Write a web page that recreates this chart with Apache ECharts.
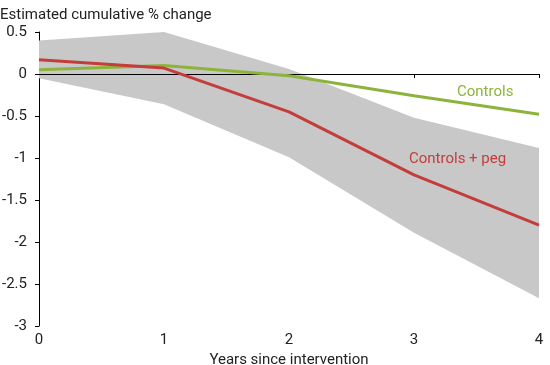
<!DOCTYPE html>
<html><head><meta charset="utf-8">
<script src="https://cdn.jsdelivr.net/npm/echarts@6/dist/echarts.min.js"></script>
<style>html,body{margin:0;padding:0;background:#fff}#c{width:550px;height:365px}</style>
</head><body><div id="c"></div>
<script>
var years = [0, 1, 2, 3, 4];
var controls = [0.05, 0.10, -0.02, -0.26, -0.48];
var controlsPeg = [0.17, 0.07, -0.45, -1.20, -1.80];
var bandUpper = [0.40, 0.50, 0.06, -0.52, -0.88];
var bandLower = [-0.05, -0.36, -0.99, -1.89, -2.67];
var yTicks = [0.5, 0, -0.5, -1, -1.5, -2, -2.5, -3];

var pair = function(arr){ return years.map(function(x,i){ return [x, arr[i]]; }); };
var font = 'Roboto';
var chart = echarts.init(document.getElementById('c'));
chart.setOption({
  animation: false,
  textStyle: {fontFamily: font},
  grid: {left: 39, right: 11, top: 32, bottom: 39, containLabel: false, outerBoundsMode: 'none'},
  xAxis: {
    type: 'value', min: 0, max: 4, interval: 1,
    name: 'Years since intervention', nameLocation: 'middle', nameGap: 26,
    nameTextStyle: {color: '#222', fontSize: 15, fontFamily: font},
    axisLine: {show: true, lineStyle: {color: '#000', width: 1}},
    axisTick: {show: true, length: 4, lineStyle: {color: '#000'}},
    axisLabel: {color: '#222', fontSize: 15, margin: 7, fontFamily: font},
    splitLine: {show: false}
  },
  yAxis: {
    type: 'value', min: -3, max: 0.5, interval: 0.5,
    axisLine: {show: true, onZero: false, lineStyle: {color: '#000', width: 1}},
    axisTick: {show: true, length: 4, lineStyle: {color: '#000'}},
    axisLabel: {color: '#222', fontSize: 15, margin: 12, fontFamily: font,
      formatter: function(v){ return String(Math.round(v*10)/10); }},
    splitLine: {show: false}
  },
  graphic: [
    {type: 'text', z: 100, left: 0, top: 8, style: {text: 'Estimated cumulative % change', fill: '#222', font: '15px Roboto'}},
    {type: 'text', z: 100, left: 457, top: 85, style: {text: 'Controls', fill: '#8cb43c', font: '15px Roboto'}},
    {type: 'text', z: 100, left: 409, top: 152, style: {text: 'Controls + peg', fill: '#c43d3a', font: '15px Roboto'}}
  ],
  series: [
    {type: 'custom', data: years.map(function(x, i){ return [x, bandUpper[i], bandLower[i]]; }),
     silent: true, z: 1,
     renderItem: function(params, api){
       if (params.dataIndex !== 0) return null;
       var pts = [];
       for (var i = 0; i < years.length; i++) pts.push(api.coord([years[i], bandUpper[i]]));
       for (var j = years.length - 1; j >= 0; j--) pts.push(api.coord([years[j], bandLower[j]]));
       return {type: 'polygon', shape: {points: pts}, style: {fill: '#c8c8c8'}};
     },
     encode: {x: 0, y: [1, 2]}},
    {type: 'line', data: pair(controls), symbol: 'none', lineStyle: {color: '#8cb43c', width: 3}, z: 3,
     markLine: {symbol: 'none', silent: true, label: {show: false}, z: 2,
       lineStyle: {color: '#000', width: 1, type: 'solid'}, data: [{yAxis: 0}]}},
    {type: 'line', data: pair(controlsPeg), symbol: 'none', lineStyle: {color: '#c43d3a', width: 3}, z: 4}
  ]
});
</script></body></html>
